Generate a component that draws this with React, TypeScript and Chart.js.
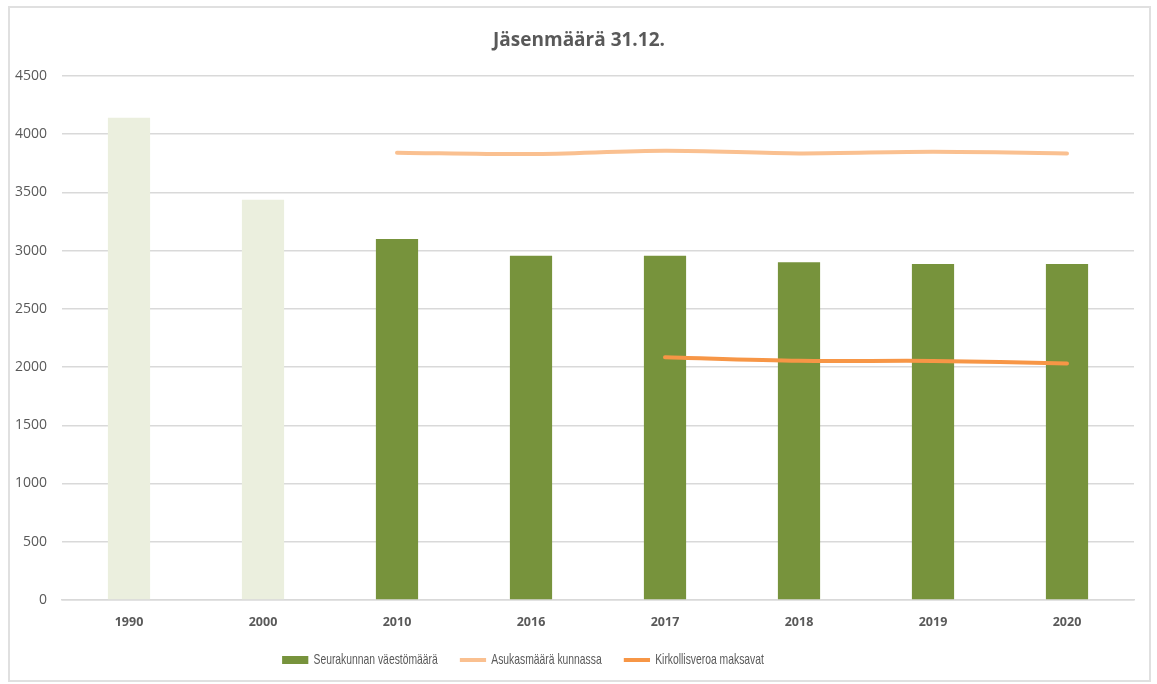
import React, { useEffect, useRef } from "react";
import { Chart, registerables } from "chart.js";

Chart.register(...registerables);

const categories = ["1990", "2000", "2010", "2016", "2017", "2018", "2019", "2020"];
const seurakuntaValues = [4140, 3435, 3100, 2955, 2955, 2900, 2885, 2885];
const asukasValues = [null, null, 3840, 3828, 3856, 3834, 3847, 3834];
const kirkollisveroValues = [null, null, null, null, 2084, 2053, 2052, 2030];
const yTicksMax = 4500;
const yTicksStep = 500;

const barColors = ["#EBEFDE", "#EBEFDE", "#77933C", "#77933C", "#77933C", "#77933C", "#77933C", "#77933C"];
const LEGEND_FONT = "'Liberation Sans', Arial, sans-serif";
const TICKFONT = "'Open Sans', 'Liberation Sans', sans-serif";

// legend is drawn horizontally condensed (narrow, Calibri-like look of the original)
const LEGEND_SQUEEZE = 0.69;
const LEGEND_TARGET_CX = 513;
const LEGEND_TARGET_CY = 652;
const TITLE_SHIFT_X = 4.5;

const layoutTweaks = {
  id: "layoutTweaks",
  afterLayout(chart: any) {
    const lg = chart.legend;
    if (lg && !lg.__squeezed) {
      lg.__squeezed = true;
      const origDraw = lg.draw;
      lg.draw = function (...args: any[]) {
        const hb = this.legendHitBoxes || [];
        if (!hb.length) return origDraw.apply(this, args);
        const srcL = hb[0].left;
        const last = hb[hb.length - 1];
        const srcR = last.left + last.width;
        const srcCx = (srcL + srcR) / 2;
        const srcCy = hb[0].top + hb[0].height / 2;
        const ctx = this.ctx;
        ctx.save();
        ctx.translate(LEGEND_TARGET_CX, LEGEND_TARGET_CY);
        ctx.scale(LEGEND_SQUEEZE, 1);
        ctx.translate(-srcCx, -srcCy);
        origDraw.apply(this, args);
        ctx.restore();
      };
    }
    const tb = chart.titleBlock;
    if (tb && !tb.__shifted) {
      tb.__shifted = true;
      const origTitleDraw = tb.draw;
      tb.draw = function (...args: any[]) {
        const ctx = this.ctx;
        ctx.save();
        ctx.translate(TITLE_SHIFT_X, 0);
        origTitleDraw.apply(this, args);
        ctx.restore();
      };
    }
  },
};

export default function App() {
  const ref = useRef<HTMLCanvasElement | null>(null);

  useEffect(() => {
    if (!ref.current) return;
    const chart = new Chart(ref.current, {
      type: "bar",
      data: {
        labels: categories,
        datasets: [
          {
            type: "bar",
            label: "Seurakunnan väestömäärä",
            data: seurakuntaValues,
            backgroundColor: barColors,
            borderWidth: 0,
            categoryPercentage: 1,
            barPercentage: 0.315,
            order: 3,
          },
          {
            type: "line",
            label: "Asukasmäärä kunnassa",
            data: asukasValues as any,
            borderColor: "#FAC090",
            backgroundColor: "#FAC090",
            borderWidth: 4,
            pointRadius: 0,
            tension: 0.3,
            borderCapStyle: "round",
            order: 1,
          },
          {
            type: "line",
            label: "Kirkollisveroa maksavat",
            data: kirkollisveroValues as any,
            borderColor: "#F79646",
            backgroundColor: "#F79646",
            borderWidth: 4,
            pointRadius: 0,
            tension: 0.3,
            borderCapStyle: "round",
            order: 0,
          },
        ],
      },
      plugins: [layoutTweaks],
      options: {
        animation: false,
        responsive: true,
        maintainAspectRatio: false,
        layout: { padding: { left: 5, right: 15, top: 0, bottom: 0 } },
        plugins: {
          title: {
            display: true,
            text: "Jäsenmäärä 31.12.",
            color: "#595959",
            font: { family: TICKFONT, size: 19, weight: "bold" },
            padding: { top: 21, bottom: 24 },
          },
          legend: {
            position: "bottom",
            maxHeight: 49,
            labels: {
              color: "#595959",
              font: { family: LEGEND_FONT, size: 15 },
              usePointStyle: true,
              pointStyleWidth: 38,
              boxHeight: 8,
              padding: 32,
              sort: (a: any, b: any) => a.datasetIndex - b.datasetIndex,
              generateLabels: (c: any) => {
                const items = Chart.defaults.plugins.legend.labels.generateLabels(c);
                return items.map((it: any) => {
                  if (it.datasetIndex === 0) {
                    return { ...it, fillStyle: "#77933C", strokeStyle: "#77933C", lineWidth: 0, pointStyle: "rect" };
                  }
                  return { ...it, pointStyle: "line", lineWidth: 4 };
                });
              },
            },
          },
          tooltip: { enabled: false },
        },
        scales: {
          x: {
            afterFit: (s: any) => {
              s.height = 31;
            },
            grid: { display: false, drawTicks: false },
            border: { display: true, color: "#D9D9D9", width: 1.5 },
            ticks: {
              color: "#595959",
              font: { family: TICKFONT, size: 12.5, weight: "bold" },
              padding: 15,
            },
          },
          y: {
            min: 0,
            max: yTicksMax,
            afterFit: (s: any) => {
              s.width = 47;
            },
            grid: { color: "#D9D9D9", lineWidth: 1.5, drawTicks: false },
            border: { display: false },
            ticks: {
              stepSize: yTicksStep,
              color: "#595959",
              font: { family: TICKFONT, size: 14 },
              padding: 15,
              callback: (v: any) => String(v),
            },
          },
        },
      },
    });
    return () => chart.destroy();
  }, []);

  return (
    <div
      style={{
        position: "absolute",
        left: 8,
        top: 6,
        width: 1143,
        height: 676,
        border: "2px solid #E0E0E0",
        boxSizing: "border-box",
        background: "#fff",
      }}
    >
      <div style={{ position: "relative", width: "100%", height: "100%" }}>
        <canvas ref={ref} />
      </div>
    </div>
  );
}
